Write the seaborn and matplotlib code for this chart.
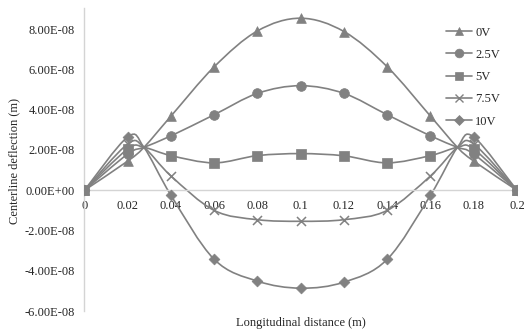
import numpy as np
import pandas as pd
import matplotlib
matplotlib.use("Agg")
import matplotlib.pyplot as plt
from matplotlib.path import Path
from matplotlib.patches import PathPatch
from matplotlib.lines import Line2D
from matplotlib.ticker import FuncFormatter
import seaborn as sns

# Longitudinal positions (m); 0.0275 and 0.1725 are the electrode edges (no marker)
x_pos = [0, 0.02, 0.0275, 0.04, 0.06, 0.08, 0.1, 0.12, 0.14, 0.16, 0.1725, 0.18, 0.2]
marked = [True, True, False, True, True, True, True, True, True, True, False, True, True]

series_names = ["0V", "2.5V", "5V", "7.5V", "10V"]
defl_0v = [0, 1.45e-8, 2.13e-8, 3.68e-8, 6.13e-8, 7.91e-8, 8.54e-8, 7.88e-8, 6.13e-8, 3.68e-8, 2.13e-8, 1.45e-8, 0]
defl_2_5v = [0, 1.80e-8, 2.13e-8, 2.70e-8, 3.75e-8, 4.81e-8, 5.19e-8, 4.81e-8, 3.75e-8, 2.70e-8, 2.13e-8, 1.80e-8, 0]
defl_5v = [0, 2.05e-8, 2.13e-8, 1.72e-8, 1.36e-8, 1.72e-8, 1.82e-8, 1.71e-8, 1.36e-8, 1.72e-8, 2.13e-8, 2.05e-8, 0]
defl_7_5v = [0, 2.30e-8, 2.13e-8, 0.71e-8, -1.00e-8, -1.46e-8, -1.54e-8, -1.46e-8, -1.00e-8, 0.71e-8, 2.13e-8, 2.30e-8, 0]
defl_10v = [0, 2.65e-8, 2.13e-8, -0.25e-8, -3.43e-8, -4.51e-8, -4.86e-8, -4.56e-8, -3.43e-8, -0.25e-8, 2.13e-8, 2.65e-8, 0]
all_defl = [defl_0v, defl_2_5v, defl_5v, defl_7_5v, defl_10v]

y_ticks = [-6e-8, -4e-8, -2e-8, 0, 2e-8, 4e-8, 6e-8, 8e-8]
x_ticks = [0, 0.02, 0.04, 0.06, 0.08, 0.1, 0.12, 0.14, 0.16, 0.18, 0.2]
x_tick_labels = ["0", "0.02", "0.04", "0.06", "0.08", "0.1", "0.12", "0.14", "0.16", "0.18", "0.2"]

markers = {"0V": "^", "2.5V": "o", "5V": "s", "7.5V": "x", "10V": "D"}
msize = {"0V": 7, "2.5V": 7, "5V": 6.5, "7.5V": 6.5, "10V": 5.5}

sns.set_theme(style="white")
plt.rcParams["font.family"] = ["Liberation Serif", "DejaVu Serif"]
text_col = "#262626"
line_col = "#818181"
axis_col = "#d4d4d4"

frames = []
for name, vals in zip(series_names, all_defl):
    frames.append(pd.DataFrame({"x": x_pos, "y": vals, "series": name, "marked": marked}))
df = pd.concat(frames, ignore_index=True)

fig = plt.figure(figsize=(5.28, 3.31), dpi=100)
ax = fig.add_axes([0.160, 0.060, 0.819, 0.916])


def smooth_path(xs, ys):
    # Bezier segments with Catmull-Rom style tangents (spreadsheet "smoothed line")
    pts = np.column_stack([xs, ys])
    n = len(pts)
    verts = [pts[0]]
    codes = [Path.MOVETO]
    for i in range(n - 1):
        p_prev = pts[i - 1] if i > 0 else pts[i]
        p_next2 = pts[i + 2] if i + 2 < n else pts[i + 1]
        c1 = pts[i] + (pts[i + 1] - p_prev) / 6.0
        c2 = pts[i + 1] - (p_next2 - pts[i]) / 6.0
        verts += [c1, c2, pts[i + 1]]
        codes += [Path.CURVE4] * 3
    return Path(verts, codes)


for name in series_names:
    sub = df[df["series"] == name]
    ax.add_patch(PathPatch(smooth_path(sub["x"].to_numpy(), sub["y"].to_numpy()),
                           facecolor="none", edgecolor=line_col, lw=1.2, zorder=2))
    pts = sub[sub["marked"]]
    m = markers[name]
    if m == "x":
        sns.scatterplot(data=pts, x="x", y="y", marker="x", s=msize[name] ** 2,
                        color=line_col, linewidth=1.1, ax=ax, zorder=3, legend=False)
    else:
        sns.scatterplot(data=pts, x="x", y="y", marker=m, s=msize[name] ** 2,
                        color=line_col, edgecolor=line_col, linewidth=0.5,
                        ax=ax, zorder=3, legend=False)

ax.set_xlim(0, 0.2)
ax.set_ylim(-6e-8, 9.05e-8)
ax.set_yticks(y_ticks)
ax.set_xticks(x_ticks)
ax.set_xticklabels(x_tick_labels)
ax.yaxis.set_major_formatter(FuncFormatter(
    lambda v, p: "0.00E+00" if abs(v) < 1e-20 else "{:.2E}".format(v)))

for s in ["top", "right"]:
    ax.spines[s].set_visible(False)
ax.spines["left"].set_color(axis_col)
ax.spines["bottom"].set_color(axis_col)
ax.spines["bottom"].set_position(("data", 0))
ax.spines["left"].set_linewidth(1.0)
ax.spines["bottom"].set_linewidth(1.0)
ax.tick_params(axis="both", which="major", labelsize=9, colors=text_col,
               length=3, width=0.8, color=axis_col, direction="out")
ax.tick_params(axis="x", length=0, pad=7)
ax.tick_params(axis="y", pad=4)

ax.set_xlabel("")
ax.set_ylabel("")
fig.text(0.57, 0.025, "Longitudinal distance (m)", ha="center", va="center",
         fontsize=9, color=text_col)
fig.text(0.027, 0.515, "Centerline deflection (m)", ha="center", va="center",
         rotation=90, fontsize=9, color=text_col)

handles = []
for name in series_names:
    m = markers[name]
    handles.append(Line2D([0], [0], color=line_col, lw=1.2, marker=m,
                          markersize=msize[name] * 0.9,
                          markerfacecolor=line_col, markeredgecolor=line_col,
                          markeredgewidth=1.0 if m == "x" else 0.5))
leg = fig.legend(handles, series_names, loc="upper left",
                 bbox_to_anchor=(0.835, 0.935), frameon=False, fontsize=9,
                 handlelength=2.1, handletextpad=0.25, labelspacing=0.82,
                 borderaxespad=0)
for t in leg.get_texts():
    t.set_color(text_col)

fig.savefig("out.png", dpi=100)
